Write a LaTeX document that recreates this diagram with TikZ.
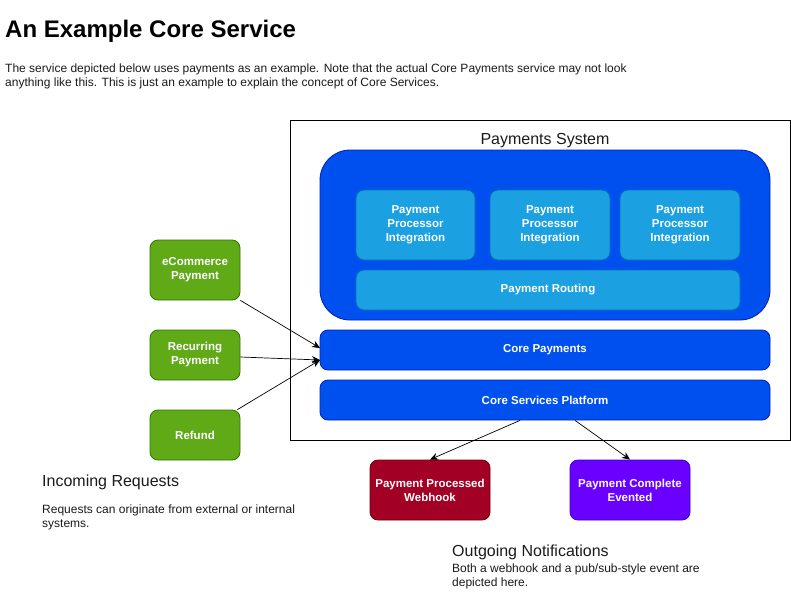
\documentclass[tikz,border=0pt]{standalone}
\usepackage{fontspec}
\setmainfont{Liberation Sans}
\usetikzlibrary{arrows.meta}
\definecolor{blueA}{HTML}{0050EF}
\definecolor{blueAs}{HTML}{001DBC}
\definecolor{blueB}{HTML}{1BA1E2}
\definecolor{blueBs}{HTML}{006EAF}
\definecolor{greenA}{HTML}{60A917}
\definecolor{greenAs}{HTML}{2D7600}
\definecolor{redA}{HTML}{A20025}
\definecolor{redAs}{HTML}{6F0000}
\definecolor{violetA}{HTML}{6A00FF}
\definecolor{violetAs}{HTML}{3700CC}
\definecolor{txt}{HTML}{1A1A1A}
\tikzset{
  box/.style={draw, rounded corners=8pt, inner sep=0pt, line width=0.8pt, align=center,
    text=white, font=\fontsize{11.5}{14}\selectfont\bfseries},
  bluebox/.style={box, fill=blueA, draw=blueAs},
  lightbox/.style={box, fill=blueB, draw=blueBs},
  greenbox/.style={box, fill=greenA, draw=greenAs},
  redbox/.style={box, fill=redA, draw=redAs},
  violetbox/.style={box, fill=violetA, draw=violetAs},
  conn/.style={-{Stealth[length=8pt,width=7pt]}, line width=0.7pt},
  heading/.style={anchor=base west, inner sep=0pt, text=txt, font=\fontsize{16}{19}\selectfont},
  body/.style={anchor=north west, inner sep=0pt, text=txt, align=left, font=\fontsize{12}{14}\selectfont},
}
\begin{document}
\begin{tikzpicture}[x=1pt,y=-1pt]
\useasboundingbox (0,0) rectangle (791,591);
% title and intro
\node[anchor=base west, inner sep=0pt, font=\fontsize{24}{28}\selectfont\bfseries] (title) at (5,38) {An Example Core Service};
\node[body] (intro) at (5,64) {The service depicted below uses payments as an example. Note that the actual Core Payments service may not look\\anything like this. This is just an example to explain the concept of Core Services.};
% outer system box
\node[draw, line width=0.8pt, minimum width=500pt, minimum height=320pt, inner sep=0pt] (sys) at (540,280) {};
\node[anchor=base, inner sep=0pt, text=txt, font=\fontsize{16}{19}\selectfont] (systitle) at (545,144) {Payments System};
% big blue container
\node[bluebox, rounded corners=30pt, minimum width=450pt, minimum height=170pt] (cont) at (545,235) {};
\node[lightbox, minimum width=119pt, minimum height=70pt] (ppi1) at (415.5,225) {Payment\\Processor\\Integration};
\node[lightbox, minimum width=120pt, minimum height=70pt] (ppi2) at (550,225) {Payment\\Processor\\Integration};
\node[lightbox, minimum width=120pt, minimum height=70pt] (ppi3) at (680,225) {Payment\\Processor\\Integration};
\node[lightbox, minimum width=384pt, minimum height=40pt] (routing) at (548,290) {Payment Routing};
\node[bluebox, minimum width=450pt, minimum height=40pt] (core) at (545,350) {Core Payments};
\node[bluebox, minimum width=450pt, minimum height=40pt] (platform) at (545,400) {Core Services Platform};
% incoming
\node[greenbox, minimum width=90pt, minimum height=60pt] (ecom) at (195,270) {eCommerce\\Payment};
\node[greenbox, minimum width=90pt, minimum height=50pt] (recur) at (195,355) {Recurring\\Payment};
\node[greenbox, minimum width=90pt, minimum height=50pt] (refund) at (195,435) {Refund};
% outgoing
\node[redbox, minimum width=120pt, minimum height=60pt] (webhook) at (430,490) {Payment Processed\\Webhook};
\node[violetbox, minimum width=120pt, minimum height=60pt] (evented) at (630,490) {Payment Complete\\Evented};
% connectors
\coordinate (inA) at (320,348);
\coordinate (inB) at (320,360);
\draw[conn] (ecom.south east) -- (inA);
\draw[conn] ([yshift=-2pt]recur.east) -- (inB);
\draw[conn] ([xshift=-3pt]refund.north east) -- (inB);
\draw[conn] ([xshift=-25pt]platform.south) -- (webhook.north);
\draw[conn] ([xshift=30pt]platform.south) -- (evented.north);
% captions
\node[heading] (inhead) at (42,486) {Incoming Requests};
\node[body] (inbody) at (42,505) {Requests can originate from external or internal\\systems.};
\node[heading] (outhead) at (452,556) {Outgoing Notifications};
\node[body] (outbody) at (452,564) {Both a webhook and a pub/sub-style event are\\depicted here.};
\end{tikzpicture}
\end{document}
